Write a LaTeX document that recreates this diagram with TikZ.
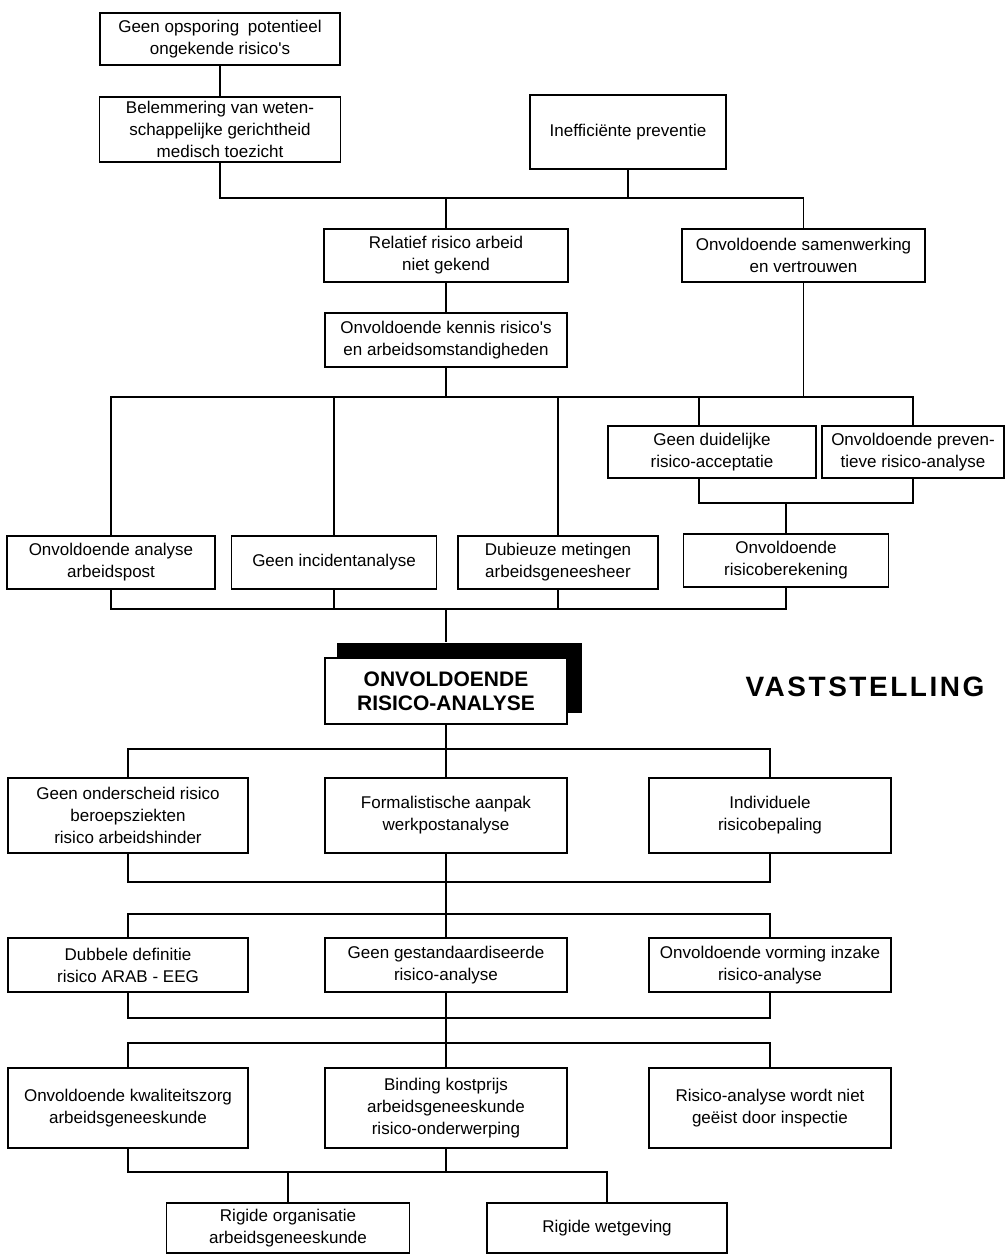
\documentclass[tikz,border=0pt]{standalone}
\usepackage{fontspec}
\setmainfont{Liberation Sans}
\usetikzlibrary{calc}
\begin{document}
\begin{tikzpicture}[x=1pt,y=-1pt,line width=1.6pt,
  bx/.style={draw,line width=1.6pt,align=center,inner sep=0pt,fill=white,
    font=\fontsize{17}{22}\selectfont},
  bigbx/.style={bx,font=\fontsize{21}{24}\selectfont\bfseries},
  shadowbx/.style={fill=black,draw=none,inner sep=0pt},
  titletext/.style={inner sep=0pt,font=\fontsize{28}{30}\selectfont\bfseries\addfontfeature{LetterSpace=9}}]
\useasboundingbox (0,0) rectangle (1006,1254);
\clip (0,0) rectangle (1006,1254);

% bus levels
\coordinate (y1) at (0,198);
\coordinate (y2) at (0,397);
\coordinate (y3) at (0,503);
\coordinate (y4) at (0,609);
\coordinate (y5) at (0,749);
\coordinate (y6) at (0,882);
\coordinate (y7) at (0,914);
\coordinate (y8) at (0,1018);
\coordinate (y9) at (0,1043);
\coordinate (y10) at (0,1172);

% boxes
\node[bx,minimum width=240,minimum height=52] (A) at (220,39) {Geen opsporing\hspace{4pt} potentieel\\ongekende risico\textquotesingle s};
\node[bx,minimum width=241,minimum height=65] (B) at (220,129.5) {Belemmering van weten-\\schappelijke gerichtheid\\medisch toezicht};
\node[bx,minimum width=196,minimum height=74] (C) at (628,132) {Inefficiënte preventie};
\node[bx,minimum width=244,minimum height=53] (D) at (446,255.5) {Relatief risico arbeid\\niet gekend};
\node[bx,minimum width=243,minimum height=53] (E) at (803.5,255.5) {Onvoldoende samenwerking\\en vertrouwen};
\node[bx,minimum width=242,minimum height=54] (F) at (446,340) {Onvoldoende kennis risico\textquotesingle s\\en arbeidsomstandigheden};

\node[bx,minimum width=208,minimum height=52] (K) at (712,452) {Geen duidelijke\\risico-acceptatie};
\node[bx,minimum width=182,minimum height=52] (L) at (913,452) {Onvoldoende preven-\\tieve risico-analyse};

\node[bx,minimum width=208,minimum height=53] (G) at (111,562.5) {Onvoldoende analyse\\arbeidspost};
\node[bx,minimum width=205,minimum height=53] (H) at (334,562.5) {Geen incidentanalyse};
\node[bx,minimum width=200,minimum height=53] (I) at (558,562.5) {Dubieuze metingen\\arbeidsgeneesheer};
\node[bx,minimum width=205,minimum height=53] (J) at (786,560.5) {Onvoldoende\\risicoberekening};

\node[shadowbx,minimum width=245,minimum height=70] (Msh) at (459.5,678) {};
\node[bigbx,minimum width=242,minimum height=66] (M) at (446,691) {ONVOLDOENDE\\RISICO-ANALYSE};
\node[titletext] (VS) at (865,687) {VASTSTELLING};

\node[bx,minimum width=240,minimum height=75] (N) at (128,815.5) {Geen onderscheid risico\\beroepsziekten\\risico arbeidshinder};
\node[bx,minimum width=242,minimum height=75] (O) at (446,815.5) {Formalistische aanpak\\werkpostanalyse};
\node[bx,minimum width=242,minimum height=75] (P) at (770,815.5) {Individuele\\risicobepaling};

\node[bx,minimum width=240,minimum height=54] (Q) at (128,965) {Dubbele definitie\\risico ARAB - EEG};
\node[bx,minimum width=242,minimum height=54] (R) at (446,965) {Geen gestandaardiseerde\\risico-analyse};
\node[bx,minimum width=242,minimum height=54] (S) at (770,965) {Onvoldoende vorming inzake\\risico-analyse};

\node[bx,minimum width=240,minimum height=80] (T) at (128,1108) {Onvoldoende kwaliteitszorg\\arbeidsgeneeskunde};
\node[bx,minimum width=242,minimum height=80] (U) at (446,1108) {Binding kostprijs\\arbeidsgeneeskunde\\risico-onderwerping};
\node[bx,minimum width=242,minimum height=80] (V) at (770,1108) {Risico-analyse wordt niet\\geëist door inspectie};

\node[bx,minimum width=243,minimum height=50] (W) at (288,1228) {Rigide organisatie\\arbeidsgeneeskunde};
\node[bx,minimum width=240,minimum height=50] (X) at (607,1228) {Rigide wetgeving};

% connectors
\draw (A.south) -- (B.north);
\draw (B.south) |- (E.north |- y1) -- (E.north);
\draw (C.south) -- (C.south |- y1);
\draw (D.north) -- (D.north |- y1);
\draw (D.south) -- (F.north);

\draw (G.north) |- (L.north |- y2) -- (L.north);
\draw (F.south) -- (F.south |- y2);
\draw (E.south) -- (E.south |- y2);
\draw (H.north) -- (H.north |- y2);
\draw (I.north) -- (I.north |- y2);
\draw ([xshift=-13pt]K.north) -- ([xshift=-13pt]K.north |- y2);

\draw ([xshift=-13pt]K.south) |- (L.south |- y3) -- (L.south);
\draw (J.north) -- (J.north |- y3);

\draw (G.south) |- (J.south |- y4) -- (J.south);
\draw (H.south) -- (H.south |- y4);
\draw (I.south) -- (I.south |- y4);
\draw (M.north |- y4) -- (M.north |- Msh.north);

\draw (N.north) |- (P.north |- y5) -- (P.north);
\draw (M.south) -- (O.north);

\draw (N.south) |- (P.south |- y6) -- (P.south);
\draw (O.south) -- (R.north);
\draw (Q.north) |- (S.north |- y7) -- (S.north);

\draw (Q.south) |- (S.south |- y8) -- (S.south);
\draw (R.south) -- (U.north);
\draw (T.north) |- (V.north |- y9) -- (V.north);

\draw (T.south) |- (X.north |- y10) -- (X.north);
\draw (U.south) -- (U.south |- y10);
\draw (W.north) -- (W.north |- y10);
\end{tikzpicture}
\end{document}
